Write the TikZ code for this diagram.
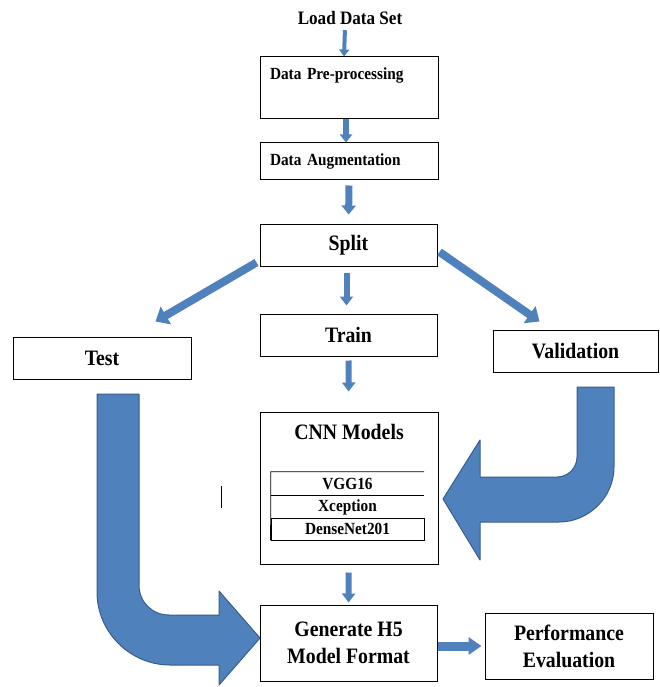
\documentclass[tikz,border=0pt]{standalone}
\usepackage{fontspec}
\setmainfont{Liberation Serif}[FakeStretch=0.9]
\usepackage{xcolor}
\usetikzlibrary{positioning,arrows.meta}
\definecolor{flowblue}{RGB}{79,129,189}
\definecolor{flowdark}{RGB}{56,93,138}
\newcommand{\bigtxt}{\fontsize{22}{27}\selectfont\bfseries}
\newcommand{\smalltxt}{\fontsize{17}{20}\selectfont\bfseries}

\begin{document}
\begin{tikzpicture}[
    x=1pt, y=-1pt,
    box/.style={rectangle, draw=black, line width=1pt, fill=white,
                inner sep=0pt, align=center, font=\bigtxt},
    leftbox/.style={box, text width=158pt, inner xsep=10pt, align=left, font=\smalltxt},
    row/.style={rectangle, inner sep=0pt, minimum width=153pt, font=\smalltxt},
    arrow/.style={-{Triangle[width=13pt,length=9pt]}, line width=6pt, color=flowblue},
    diag/.style={-{Triangle[width=20pt,length=12pt]}, line width=8pt, color=flowblue},
    bentarrow/.style={fill=flowblue, draw=flowdark, line width=1pt, line join=round}
]
    \useasboundingbox (0,0) rectangle (659,687);

    \node[font=\fontsize{19}{22}\selectfont\bfseries] (load) at (350,18) {Load Data Set};
    \node[leftbox, text height=23pt, text depth=39pt] (pre) at (349,88) {Data Pre-processing};
    \node[leftbox, minimum height=36pt] (aug) at (349,161) {Data Augmentation};
    \node[box, minimum width=177pt, minimum height=42pt] (split) at (348.5,245) {Split};
    \node[box, minimum width=177pt, minimum height=42pt] (train) at (348.5,335) {Train};
    \node[box, minimum width=178pt, minimum height=42pt] (test) at (102,358) {Test};
    \node[box, minimum width=165pt, minimum height=42pt] (valid) at (575.5,351) {Validation};
    \node[box, minimum width=178pt, text height=27pt, text depth=125pt] (cnn) at (349,488) {CNN Models};
    \node[box, minimum width=177pt, minimum height=76pt] (gen) at (348.5,643) {Generate H5\\Model Format};
    \node[box, minimum width=168pt, minimum height=66pt] (perf) at (569,646) {Performance\\Evaluation};

    % models inside the CNN box
    \node[row, minimum height=24pt] (vgg) at (347.5,484) {VGG16};
    \node[row, minimum height=22pt] (xcep) at (347.5,507) {Xception};
    \node[row, minimum height=22pt, draw, line width=0.8pt] (dense) at (347.5,529) {DenseNet201};
    \draw[line width=0.8pt] (vgg.north east) -- (vgg.north west) -- (dense.south west);
    \draw[line width=0.8pt] (xcep.north west) -- (xcep.north east);
    \draw[line width=1pt] (221,486) -- (221,508);

    \draw[arrow, line width=4pt, -{Triangle[width=10pt,length=7pt]}, shorten <=2pt]
        ([xshift=-5pt]load.south) -- ([xshift=-5pt]pre.north);
    \draw[arrow, -{Triangle[width=12pt,length=8pt]}] ([xshift=-3pt]pre.south) -- ([xshift=-3pt]aug.north);
    \draw[arrow, line width=7pt, -{Triangle[width=14pt,length=9pt]}, shorten <=6pt, shorten >=9pt]
        (aug) -- (split);
    \draw[arrow, shorten <=6pt, shorten >=8pt] ([xshift=-2pt]split.south) -- ([xshift=-2pt]train.north);
    \draw[arrow, shorten <=4pt, shorten >=20pt] (train) -- (cnn);
    \draw[arrow, shorten <=8pt, shorten >=2pt] (cnn) -- (gen);
    \draw[arrow, line width=9pt, -{Triangle[width=17pt,length=13pt]}, shorten >=3pt]
        (gen.east |- perf.west) -- (perf.west);

    \draw[diag] ([xshift=-3pt,yshift=4pt]split.south west) -- ([xshift=-36pt,yshift=15pt]test.north east);
    \draw[diag] ([xshift=2pt,yshift=-7pt]split.east) -- ([xshift=47pt,yshift=8pt]valid.north west);

    % bent block arrows
    \draw[bentarrow] (97,394) -- (139,394) -- (139,585)
        .. controls (139,602) and (152,615) .. (169,615) -- (219,615) -- (219,591)
        -- (260,638) -- (219,685) -- (219,665) -- (170,665)
        .. controls (130,665) and (97,632) .. (97,592) -- cycle;
    \draw[bentarrow] (577,387) -- (614,387) -- (614,467)
        .. controls (614,497) and (589,522) .. (559,522) -- (480,522) -- (480,560)
        -- (443,499) -- (480,440) -- (480,477) -- (557,477)
        .. controls (568,477) and (577,468) .. (577,457) -- cycle;
\end{tikzpicture}
\end{document}
